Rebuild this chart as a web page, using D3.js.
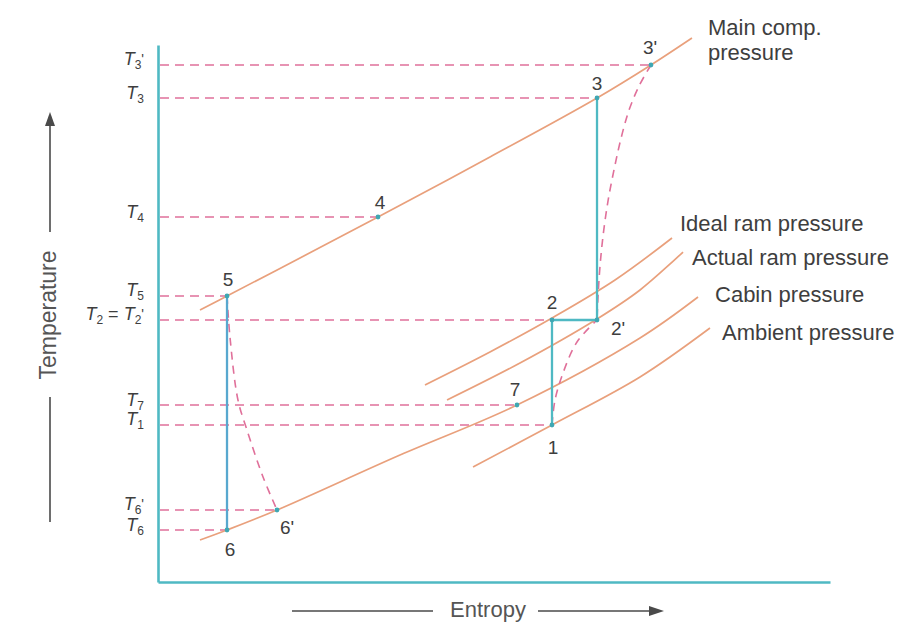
<!DOCTYPE html>
<html>
<head>
<meta charset="utf-8">
<script src="https://cdn.jsdelivr.net/npm/d3@7"></script>
<style>
  body { margin: 0; background: #fff; }
  svg { display: block; font-family: "Liberation Sans", Arial, Helvetica, sans-serif; }
</style>
</head>
<body>
<svg id="TsChart" width="904" height="625"></svg>
<script>
// state points of the air refrigeration cycle (entropy, temperature in chart units)
const pointNames = ["1", "2", "2'", "3", "3'", "4", "5", "6", "6'", "7"];
const pointS = [58.63, 58.63, 65.33, 65.33, 73.36, 32.74, 10.27, 10.27, 17.71, 53.42];
const pointT = [29.24, 48.79, 48.79, 90.13, 96.28, 67.97, 53.26, 9.68, 13.41, 32.96];

// temperature levels marked on the axis
const tempLevels = [96.28, 90.13, 67.97, 53.26, 48.79, 32.96, 29.24, 13.41, 9.68];
const tempLabels = ["T3'", "T3", "T4", "T5", "T2 = T2'", "T7", "T1", "T6'", "T6"];
const guideEnds = [73.36, 65.33, 32.74, 10.27, 58.63, 53.42, 58.63, 17.71, 10.27];

// constant pressure lines
const isobarNames = ["Main comp.|pressure", "Ideal ram pressure", "Actual ram pressure", "Cabin pressure", "Ambient pressure"];
const mainCompS = [6.25, 10.27, 21.13, 32.74, 49.40, 65.33, 73.36, 79.46];
const mainCompT = [50.65, 53.26, 60.34, 67.97, 79.14, 90.13, 96.28, 101.30];
const idealRamS = [39.73, 49.40, 58.63, 68.01, 76.49];
const idealRamT = [36.69, 42.83, 49.16, 56.24, 64.06];
const actualRamS = [43.01, 53.87, 65.33, 71.73, 78.13];
const actualRamT = [33.89, 40.78, 48.98, 54.38, 61.45];
const cabinS = [6.25, 10.27, 17.71, 36.01, 53.42, 71.73, 80.36];
const cabinT = [7.82, 9.68, 13.41, 23.65, 32.96, 45.44, 53.07];
const ambientS = [46.88, 58.63, 71.73, 82.14];
const ambientT = [21.42, 29.24, 38.18, 47.30];

// actual (irreversible) processes, dashed
const comp3S = [73.36, 71.60, 70.10, 68.90, 67.90, 67.00, 66.30, 65.80, 65.50, 65.33];
const comp3T = [96.28, 92.40, 87.90, 82.60, 77.00, 71.20, 65.20, 59.20, 53.60, 48.79];
const ram12S = [58.63, 59.08, 60.27, 62.35, 65.33];
const ram12T = [29.24, 33.89, 38.92, 44.69, 48.79];
const exp56S = [10.27, 10.71, 11.90, 13.24, 15.63, 17.71];
const exp56T = [53.26, 45.62, 33.89, 28.31, 19.55, 13.41];

// ideal processes, solid: [from, to] point names
const idealSteps = [["3", "2'"], ["2", "2'"], ["2", "1"], ["5", "6"]];

const svg = d3.select("#TsChart");

const x = d3.scaleLinear().domain([0, 100]).range([158, 830]);
const y = d3.scaleLinear().domain([0, 100]).range([582, 45]);

const orange = "#e9a07c";
const pink = "#e0709a";
const teal = "#4fb9c3";
const blue = "#58a8cf";
const ink = "#3e3e3e";

const zip = (s, t) => s.map((v, i) => [v, t[i]]);
const line = d3.line().x(d => x(d[0])).y(d => y(d[1])).curve(d3.curveCatmullRom);
const pt = name => { const i = pointNames.indexOf(name); return [pointS[i], pointT[i]]; };

// dashed guides from the axis
svg.append("g").selectAll("line")
    .data(tempLevels)
    .join("line")
    .attr("x1", x(0) + 2)
    .attr("x2", (d, i) => x(guideEnds[i]))
    .attr("y1", d => y(d))
    .attr("y2", d => y(d))
    .attr("stroke", pink)
    .attr("stroke-width", 1.6)
    .attr("stroke-dasharray", "9,6");

// isobars
const isobars = [
    zip(mainCompS, mainCompT), zip(idealRamS, idealRamT), zip(actualRamS, actualRamT),
    zip(cabinS, cabinT), zip(ambientS, ambientT)
];
svg.append("g").selectAll("path")
    .data(isobars)
    .join("path")
    .attr("d", line)
    .attr("fill", "none")
    .attr("stroke", orange)
    .attr("stroke-width", 1.7);

// isobar labels, placed off the upper end of each line
const labelOffsets = [[16, -3], [8, -7], [9, 13], [17, 5], [12, 12]];
isobars.forEach((iso, i) => {
    const end = iso[iso.length - 1];
    const t = svg.append("text")
        .attr("x", x(end[0]) + labelOffsets[i][0])
        .attr("y", y(end[1]) + labelOffsets[i][1])
        .attr("font-size", "22px")
        .attr("fill", ink);
    isobarNames[i].split("|").forEach((part, k) => {
        t.append("tspan")
            .attr("x", x(end[0]) + labelOffsets[i][0])
            .attr("dy", k === 0 ? 0 : 25)
            .text(part);
    });
});

// dashed actual processes
svg.append("g").selectAll("path")
    .data([zip(comp3S, comp3T), zip(ram12S, ram12T), zip(exp56S, exp56T)])
    .join("path")
    .attr("d", line)
    .attr("fill", "none")
    .attr("stroke", pink)
    .attr("stroke-width", 1.6)
    .attr("stroke-dasharray", "8,6");

// solid ideal processes
svg.append("g").selectAll("line")
    .data(idealSteps)
    .join("line")
    .attr("x1", d => x(pt(d[0])[0]))
    .attr("y1", d => y(pt(d[0])[1]))
    .attr("x2", d => x(pt(d[1])[0]))
    .attr("y2", d => y(pt(d[1])[1]))
    .attr("stroke", d => d[0] === "5" ? blue : teal)
    .attr("stroke-width", 2.3);

// point markers
svg.append("g").selectAll("circle")
    .data(pointNames)
    .join("circle")
    .attr("cx", (d, i) => x(pointS[i]))
    .attr("cy", (d, i) => y(pointT[i]))
    .attr("r", 2.4)
    .attr("fill", "#3fa7b3");

// point labels
const ptOffsets = {"1": [1, 29], "2": [0, -11], "2'": [21, 15], "3": [0, -8], "3'": [-1, -11],
    "4": [2, -8], "5": [1, -10], "6": [3, 26], "6'": [10, 24], "7": [-2, -9]};
svg.append("g").selectAll("text")
    .data(pointNames)
    .join("text")
    .attr("x", (d, i) => x(pointS[i]) + ptOffsets[d][0])
    .attr("y", (d, i) => y(pointT[i]) + ptOffsets[d][1])
    .attr("text-anchor", "middle")
    .attr("font-size", "19px")
    .attr("fill", ink)
    .text(d => d);

// Y axis with T labels
const yAxis = svg.append("g")
    .attr("transform", `translate(${x(0)},0)`)
    .call(d3.axisLeft(y).tickValues(tempLevels).tickSize(0).tickSizeOuter(0).tickPadding(14));
yAxis.select(".domain").attr("stroke", teal).attr("stroke-width", 2.6);
yAxis.selectAll(".tick text")
    .attr("fill", ink)
    .attr("font-size", "18px")
    .attr("font-family", "'Liberation Sans', Arial, sans-serif")
    .each(function(d, i) {
        const t = d3.select(this).text("");
        const parts = tempLabels[i].match(/T\d'?|[^T]+/g);
        let shift = 0;
        parts.forEach(p => {
            const m = p.match(/^T(\d)('?)$/);
            if (m) {
                t.append("tspan").attr("font-style", "italic").attr("dy", shift).text("T");
                t.append("tspan").attr("font-size", "12px").attr("dy", 4).text(m[1]);
                shift = -4;
                if (m[2]) {
                    t.append("tspan").attr("dy", -5).attr("font-size", "14px").text("'");
                    shift = 1;
                }
            } else {
                t.append("tspan").attr("dy", shift).text(p);
                shift = 0;
            }
        });
    });

// X axis
const xAxis = svg.append("g")
    .attr("transform", `translate(0,${y(0)})`)
    .call(d3.axisBottom(x).tickValues([]).tickSizeOuter(0));
xAxis.select(".domain").attr("stroke", teal).attr("stroke-width", 2.6);

// Axis titles with arrows
const arrow = (g, x1, y1, x2, y2) => {
    g.append("line").attr("x1", x1).attr("y1", y1).attr("x2", x2).attr("y2", y2)
        .attr("stroke", "#4a4a4a").attr("stroke-width", 1.6);
};
const titles = svg.append("g");
titles.append("text")
    .attr("transform", "translate(56,315) rotate(-90)")
    .attr("text-anchor", "middle")
    .attr("font-size", "23px")
    .attr("fill", "#555")
    .text("Temperature");
arrow(titles, 50, 522, 50, 397);
arrow(titles, 50, 232, 50, 122);
titles.append("path").attr("d", "M50,112L45,126L55,126Z").attr("fill", "#4a4a4a");

titles.append("text")
    .attr("x", 488)
    .attr("y", 617)
    .attr("text-anchor", "middle")
    .attr("font-size", "22px")
    .attr("fill", "#555")
    .text("Entropy");
arrow(titles, 292, 611, 433, 611);
arrow(titles, 538, 611, 652, 611);
titles.append("path").attr("d", "M664,611L649,606L649,616Z").attr("fill", "#4a4a4a");
</script>
</body>
</html>
